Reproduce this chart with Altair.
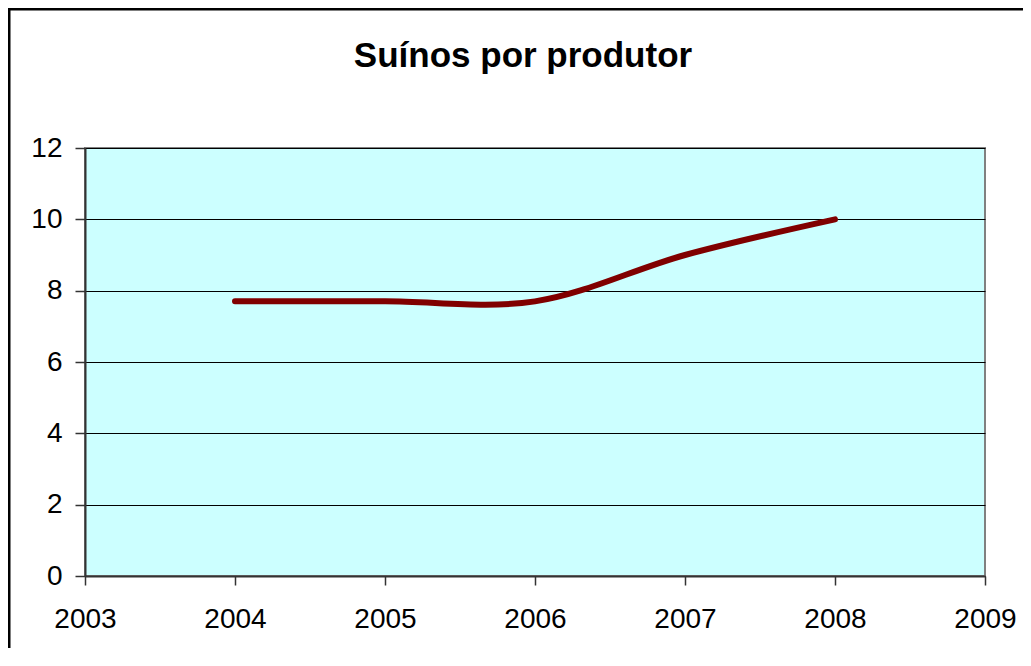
import altair as alt
import pandas as pd

years = [2004, 2005, 2006, 2007, 2008]
suinos = [7.7, 7.7, 7.7, 9.0, 10.0]
x_ticks = [2003, 2004, 2005, 2006, 2007, 2008, 2009]
y_ticks = [0, 2, 4, 6, 8, 10, 12]
title_text = "Suínos por produtor"

df = pd.DataFrame({"ano": years, "valor": suinos})

x_enc = alt.X(
    "ano:Q",
    scale=alt.Scale(domain=[2003, 2009], nice=False, zero=False),
    axis=alt.Axis(values=x_ticks, format="d", title=None, grid=False,
                  tickSize=9, labelPadding=20, labelFlush=False),
)
y_enc = alt.Y(
    "valor:Q",
    scale=alt.Scale(domain=[0, 12], nice=False),
    axis=alt.Axis(values=y_ticks, title=None, grid=True,
                  tickSize=10, labelPadding=13, labelFlush=False),
)

line = alt.Chart(df).mark_line(
    color="#800000", strokeWidth=6, interpolate="catmull-rom",
    strokeCap="round", strokeJoin="round",
).encode(x=x_enc, y=y_enc)

title = alt.Chart(pd.DataFrame({"t": [title_text]})).mark_text(
    font="Liberation Sans", fontSize=35, fontWeight="bold",
    align="center", baseline="alphabetic", color="black",
).encode(text="t:N", x=alt.value(438), y=alt.value(-81))

frame_df = pd.DataFrame({"f": [0]})
frame_left = alt.Chart(frame_df).mark_rule(color="black", strokeWidth=3).encode(
    x=alt.value(-76), y=alt.value(-140.5), y2=alt.value(700))
frame_top = alt.Chart(frame_df).mark_rule(color="black", strokeWidth=3).encode(
    x=alt.value(-77.5), x2=alt.value(1100), y=alt.value(-139))

chart = alt.layer(frame_left, frame_top, line, title).properties(
    width=900, height=428,
    autosize=alt.AutoSizeParams(type="none"),
    padding={"left": 77, "top": 140, "right": 38, "bottom": 72},
).configure(background="white").configure_view(
    fill="#CCFFFF", stroke="#808080", strokeWidth=2,
).configure_axis(
    labelFont="Liberation Sans", labelFontSize=28, labelColor="black",
    domainColor="#333333", domainWidth=2, tickColor="#333333", tickWidth=1.5,
    gridColor="black", gridWidth=1,
)

chart.save("out.html", embed_options={"renderer": "svg", "actions": False})
